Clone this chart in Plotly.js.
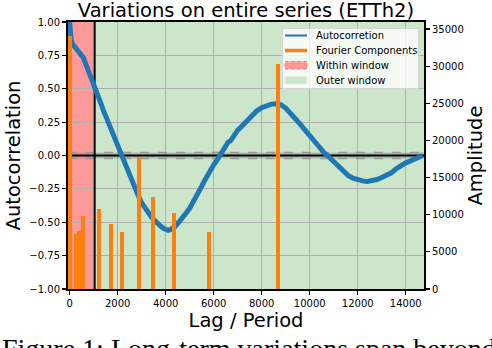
<!DOCTYPE html>
<html>
<head>
<meta charset="utf-8">
<script src="https://cdn.plot.ly/plotly-3.0.1.min.js"></script>
<style>html,body{margin:0;padding:0;background:#fff;}#chart{width:492px;height:348px;}</style>
</head>
<body>
<div id="chart"></div>
<script>
// Autocorrelation by lag
const acLag = [0,12,24,40,60,100,150,200,260,330,400,480,560,640,720,800,880,960,1040,1120,1200,1300,1400,1500,1600,1700,1800,1900,2000,2100,2200,2300,2400,2500,2600,2700,2800,2900,3000,3100,3200,3300,3400,3500,3600,3700,3800,3900,4000,4100,4200,4300,4400,4500,4600,4700,4800,4900,5000,5100,5200,5300,5400,5500,5600,5700,5800,5900,6000,6100,6200,6300,6400,6500,6600,6700,6800,6900,7000,7200,7400,7600,7800,8000,8200,8400,8600,8800,9000,9200,9400,9600,9800,10000,10200,10400,10600,10800,11000,11200,11400,11600,11800,12000,12200,12400,12600,12800,13000,13200,13400,13600,13800,14000,14200,14400,14600,14700];
const acValue = [1.00,0.96,0.90,0.885,0.87,0.84,0.83,0.815,0.80,0.785,0.77,0.755,0.735,0.70,0.665,0.63,0.595,0.555,0.515,0.475,0.44,0.39,0.34,0.295,0.25,0.205,0.16,0.115,0.07,0.025,-0.02,-0.065,-0.11,-0.155,-0.20,-0.245,-0.285,-0.32,-0.355,-0.385,-0.41,-0.435,-0.46,-0.48,-0.50,-0.515,-0.53,-0.545,-0.555,-0.56,-0.555,-0.545,-0.53,-0.51,-0.49,-0.47,-0.445,-0.42,-0.395,-0.365,-0.335,-0.30,-0.265,-0.23,-0.195,-0.16,-0.13,-0.10,-0.07,-0.045,-0.015,0.015,0.04,0.07,0.10,0.11,0.14,0.165,0.19,0.225,0.265,0.30,0.335,0.358,0.375,0.385,0.388,0.38,0.355,0.32,0.275,0.235,0.19,0.15,0.105,0.06,0.02,-0.01,-0.045,-0.085,-0.12,-0.15,-0.17,-0.185,-0.19,-0.195,-0.19,-0.18,-0.165,-0.15,-0.13,-0.10,-0.075,-0.055,-0.04,-0.025,-0.01,0.0];

// Fourier components
const fourierPeriod = [24,250,388,542,1233,1733,2167,2900,3470,4346,5792,8680];
const fourierAmp = [34000,7440,7810,9830,10730,8790,7670,17730,12430,10230,7670,30250];

// Window and significance band
const windowSize = 1040;
const confBand = 0.023;
const lagRange = [-70, 14760];

const xTicks = [0,2000,4000,6000,8000,10000,12000,14000];
const yTicks = [-1,-0.75,-0.5,-0.25,0,0.25,0.5,0.75,1];
const y2Ticks = [0,5000,10000,15000,20000,25000,30000,35000];

// Legend entries
const legendLabels = ['Autocorretion', 'Fourier Components', 'Within window', 'Outer window'];

const FONT = 'DejaVu Sans, sans-serif';
const BLUE = '#1f77b4', ORANGE = '#ff7f0e', RED = 'rgb(255,153,153)', GREEN = 'rgb(204,230,204)';

// plot area in pixels (for placing the legend box)
const PL = 68, PW = 356, PT = 22, PH = 267;
const px = v => (v - PL) / PW;
const py = v => (PT + PH - v) / PH;

const traces = [
  {x: acLag, y: acValue, type: 'scatter', mode: 'lines', name: legendLabels[0],
   line: {color: BLUE, width: 5}, yaxis: 'y', showlegend: false},
  {x: fourierPeriod, y: fourierAmp, type: 'bar', width: 160, name: legendLabels[1],
   marker: {color: ORANGE, line: {width: 0}}, yaxis: 'y2', xaxis: 'x', showlegend: false}
];

const shapes = [
  {type: 'rect', xref: 'x', yref: 'y', x0: lagRange[0], x1: windowSize, y0: -1, y1: 1,
   fillcolor: RED, line: {width: 0}, layer: 'below'},
  {type: 'rect', xref: 'x', yref: 'y', x0: windowSize, x1: lagRange[1], y0: -1, y1: 1,
   fillcolor: GREEN, line: {width: 0}, layer: 'below'},
  {type: 'rect', xref: 'x', yref: 'y', x0: lagRange[0], x1: lagRange[1], y0: -confBand, y1: confBand,
   fillcolor: 'rgba(128,128,128,0.4)', line: {width: 0}, layer: 'between'},
  {type: 'line', xref: 'x', yref: 'y', x0: lagRange[0], x1: lagRange[1], y0: confBand, y1: confBand,
   line: {color: '#999999', width: 1.5, dash: 'dash'}, layer: 'between'},
  {type: 'line', xref: 'x', yref: 'y', x0: lagRange[0], x1: lagRange[1], y0: -confBand, y1: -confBand,
   line: {color: '#999999', width: 1.5, dash: 'dash'}, layer: 'between'},
  {type: 'line', xref: 'x', yref: 'y', x0: lagRange[0], x1: lagRange[1], y0: 0, y1: 0,
   line: {color: '#000000', width: 2}, layer: 'between'},
  {type: 'line', xref: 'x', yref: 'y', x0: windowSize, x1: windowSize, y0: -1, y1: 1,
   line: {color: '#000000', width: 2}, layer: 'between'},
  // legend box
  {type: 'rect', xref: 'paper', yref: 'paper', x0: px(282.5), x1: px(418.5), y0: py(88.5), y1: py(28.5),
   fillcolor: 'rgba(255,255,255,0.8)', line: {color: '#d6d6d6', width: 1}, layer: 'above'},
  // legend symbols
  {type: 'line', xref: 'paper', yref: 'paper', x0: px(285), x1: px(307), y0: py(35.5), y1: py(35.5),
   line: {color: BLUE, width: 2}, layer: 'above'},
  {type: 'line', xref: 'paper', yref: 'paper', x0: px(285), x1: px(307), y0: py(50.5), y1: py(50.5),
   line: {color: ORANGE, width: 3.5}, layer: 'above'},
  {type: 'rect', xref: 'paper', yref: 'paper', x0: px(285), x1: px(307), y0: py(69), y1: py(61.5),
   fillcolor: RED, line: {color: 'rgb(255,120,120)', width: 1, dash: 'dot'}, layer: 'above'},
  {type: 'rect', xref: 'paper', yref: 'paper', x0: px(285), x1: px(307), y0: py(84), y1: py(76.5),
   fillcolor: GREEN, line: {color: 'rgb(225,240,225)', width: 1}, layer: 'above'}
];

const legendY = [35.5, 50.5, 65.5, 80.5];
const annotations = legendLabels.map((t, i) => ({
  text: t, xref: 'paper', yref: 'paper', x: px(313.5), y: py(legendY[i]),
  xanchor: 'left', yanchor: 'middle', showarrow: false,
  font: {family: FONT, size: 10, color: '#000'}
}));
annotations.push({text: 'Figure 1: Long-term variations span beyond', xref: 'paper', yref: 'paper',
  x: px(0), y: py(348.5), xanchor: 'left', yanchor: 'middle', showarrow: false,
  font: {family: 'Liberation Serif, Times New Roman, serif', size: 28, color: '#000'}});

const layout = {
  width: 492, height: 348,
  margin: {l: PL, r: 492 - PL - PW, t: PT, b: 348 - PT - PH},
  paper_bgcolor: '#ffffff', plot_bgcolor: '#ffffff',
  font: {family: FONT, size: 10, color: '#000'},
  title: {text: 'Variations on entire series (ETTh2)', font: {family: FONT, size: 19.5, color: '#000'},
          x: 0.5, xref: 'paper', y: 0.99, yref: 'container', yanchor: 'top'},
  showlegend: false,
  bargap: 0,
  xaxis: {range: lagRange, tickvals: xTicks, tickformat: 'd', ticks: 'outside', ticklen: 4, tickwidth: 1.2,
          tickcolor: '#000', showline: true, linecolor: '#000', linewidth: 2, mirror: true,
          showgrid: true, gridcolor: '#b0b0b0', gridwidth: 1, zeroline: false,
          tickfont: {family: FONT, size: 10},
          title: {text: 'Lag / Period', font: {family: FONT, size: 19.5}, standoff: 4}},
  yaxis: {range: [-1, 1], tickvals: yTicks, tickformat: '.2f', ticks: 'outside', ticklen: 4, tickwidth: 1.2,
          tickcolor: '#000', showline: true, linecolor: '#000', linewidth: 2, mirror: true,
          showgrid: true, gridcolor: '#b0b0b0', gridwidth: 1, zeroline: false,
          tickfont: {family: FONT, size: 10},
          title: {text: 'Autocorrelation', font: {family: FONT, size: 19.5}, standoff: 4}},
  yaxis2: {range: [0, 35950], tickvals: y2Ticks, tickformat: 'd', overlaying: 'y', side: 'right',
           ticks: 'outside', ticklen: 4, tickwidth: 1.2, tickcolor: '#000', showline: true,
           linecolor: '#000', linewidth: 2, showgrid: false, zeroline: false,
           tickfont: {family: FONT, size: 10},
           title: {text: 'Amplitude', font: {family: FONT, size: 19.5}, standoff: 4}},
  shapes: shapes,
  annotations: annotations
};

Plotly.newPlot('chart', traces, layout, {displayModeBar: false, staticPlot: true});
</script>
</body>
</html>
